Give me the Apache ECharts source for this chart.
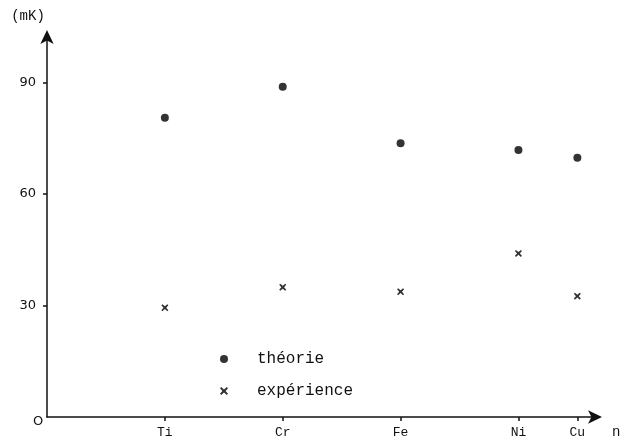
<!DOCTYPE html>
<html><head><meta charset="utf-8">
<script src="https://cdn.jsdelivr.net/npm/echarts@6/dist/echarts.min.js"></script>
<style>html,body{margin:0;padding:0;background:#fff}#c{width:633px;height:441px}</style>
</head><body><div id="c"></div>
<script>
// atomic numbers (n) and element names
const nValues = [22, 24, 26, 28, 29];
const elements = ['Ti', 'Cr', 'Fe', 'Ni', 'Cu'];
const theorie = [80.5, 88.8, 73.6, 71.8, 69.7];
const experience = [29.4, 34.9, 33.7, 44.0, 32.5];
const yTicks = [30, 60, 90];

const crossPath = 'path://M1.5,0 L5,3 L8.5,0 L10,1.5 L7,5 L10,8.5 L8.5,10 L5,7 L1.5,10 L0,8.5 L3,5 L0,1.5 Z';
const mono = 'Liberation Mono';

const chart = echarts.init(document.getElementById('c'));
chart.setOption({
  backgroundColor: '#fff',
  animation: false,
  grid: { left: 47, right: 35, top: 34, bottom: 24, containLabel: false },
  legend: {
    orient: 'vertical', left: 215, top: 346, itemGap: 16,
    itemWidth: 12, itemHeight: 8,
    textStyle: { fontFamily: mono, fontSize: 16, color: '#111', padding: [0, 0, 0, 22] },
    data: [
      { name: 'théorie', icon: 'circle' },
      { name: 'expérience', icon: crossPath }
    ]
  },
  xAxis: {
    type: 'value', min: 20, max: 29.35,
    name: 'n', nameLocation: 'end', nameGap: 14,
    nameTextStyle: { fontFamily: mono, fontSize: 14, color: '#111', verticalAlign: 'top', lineHeight: 14, padding: [8, 0, 0, 0] },
    splitLine: { show: false },
    axisLine: { lineStyle: { color: '#111', width: 1.5 }, symbol: ['none', 'arrow'], symbolSize: [10, 14], symbolOffset: [0, 4] },
    axisTick: { show: true, length: 4, inside: false, lineStyle: { color: '#111', width: 1.5 }, customValues: nValues },
    axisLabel: {
      customValues: nValues, fontFamily: mono, fontSize: 13, color: '#111', margin: 9,
      formatter: v => elements[nValues.indexOf(v)] || ''
    }
  },
  yAxis: {
    type: 'value', min: 0, max: 103,
    name: '(mK)', nameLocation: 'end', nameGap: 11,
    nameTextStyle: { fontFamily: mono, fontSize: 14, color: '#111', align: 'center', padding: [0, 38, 0, 0] },
    splitLine: { show: false },
    axisLine: { lineStyle: { color: '#111', width: 1.5 }, symbol: ['none', 'arrow'], symbolSize: [10, 14], symbolOffset: [0, 4] },
    axisTick: { show: true, length: 4, lineStyle: { color: '#111', width: 1.5 }, customValues: yTicks },
    axisLabel: { customValues: yTicks, fontFamily: 'DejaVu Sans', fontSize: 13, color: '#111', margin: 11 }
  },
  graphic: [
    { type: 'text', left: 33, top: 415, style: { text: 'O', font: '13px "DejaVu Sans"', fill: '#111' } }
  ],
  series: [
    {
      name: 'théorie', type: 'scatter', symbol: 'circle', symbolSize: 8,
      itemStyle: { color: '#000' },
      data: nValues.map((n, i) => [n, theorie[i]])
    },
    {
      name: 'expérience', type: 'scatter', symbol: crossPath, symbolSize: 7,
      itemStyle: { color: '#000' },
      data: nValues.map((n, i) => [n, experience[i]])
    }
  ]
});
</script></body></html>
